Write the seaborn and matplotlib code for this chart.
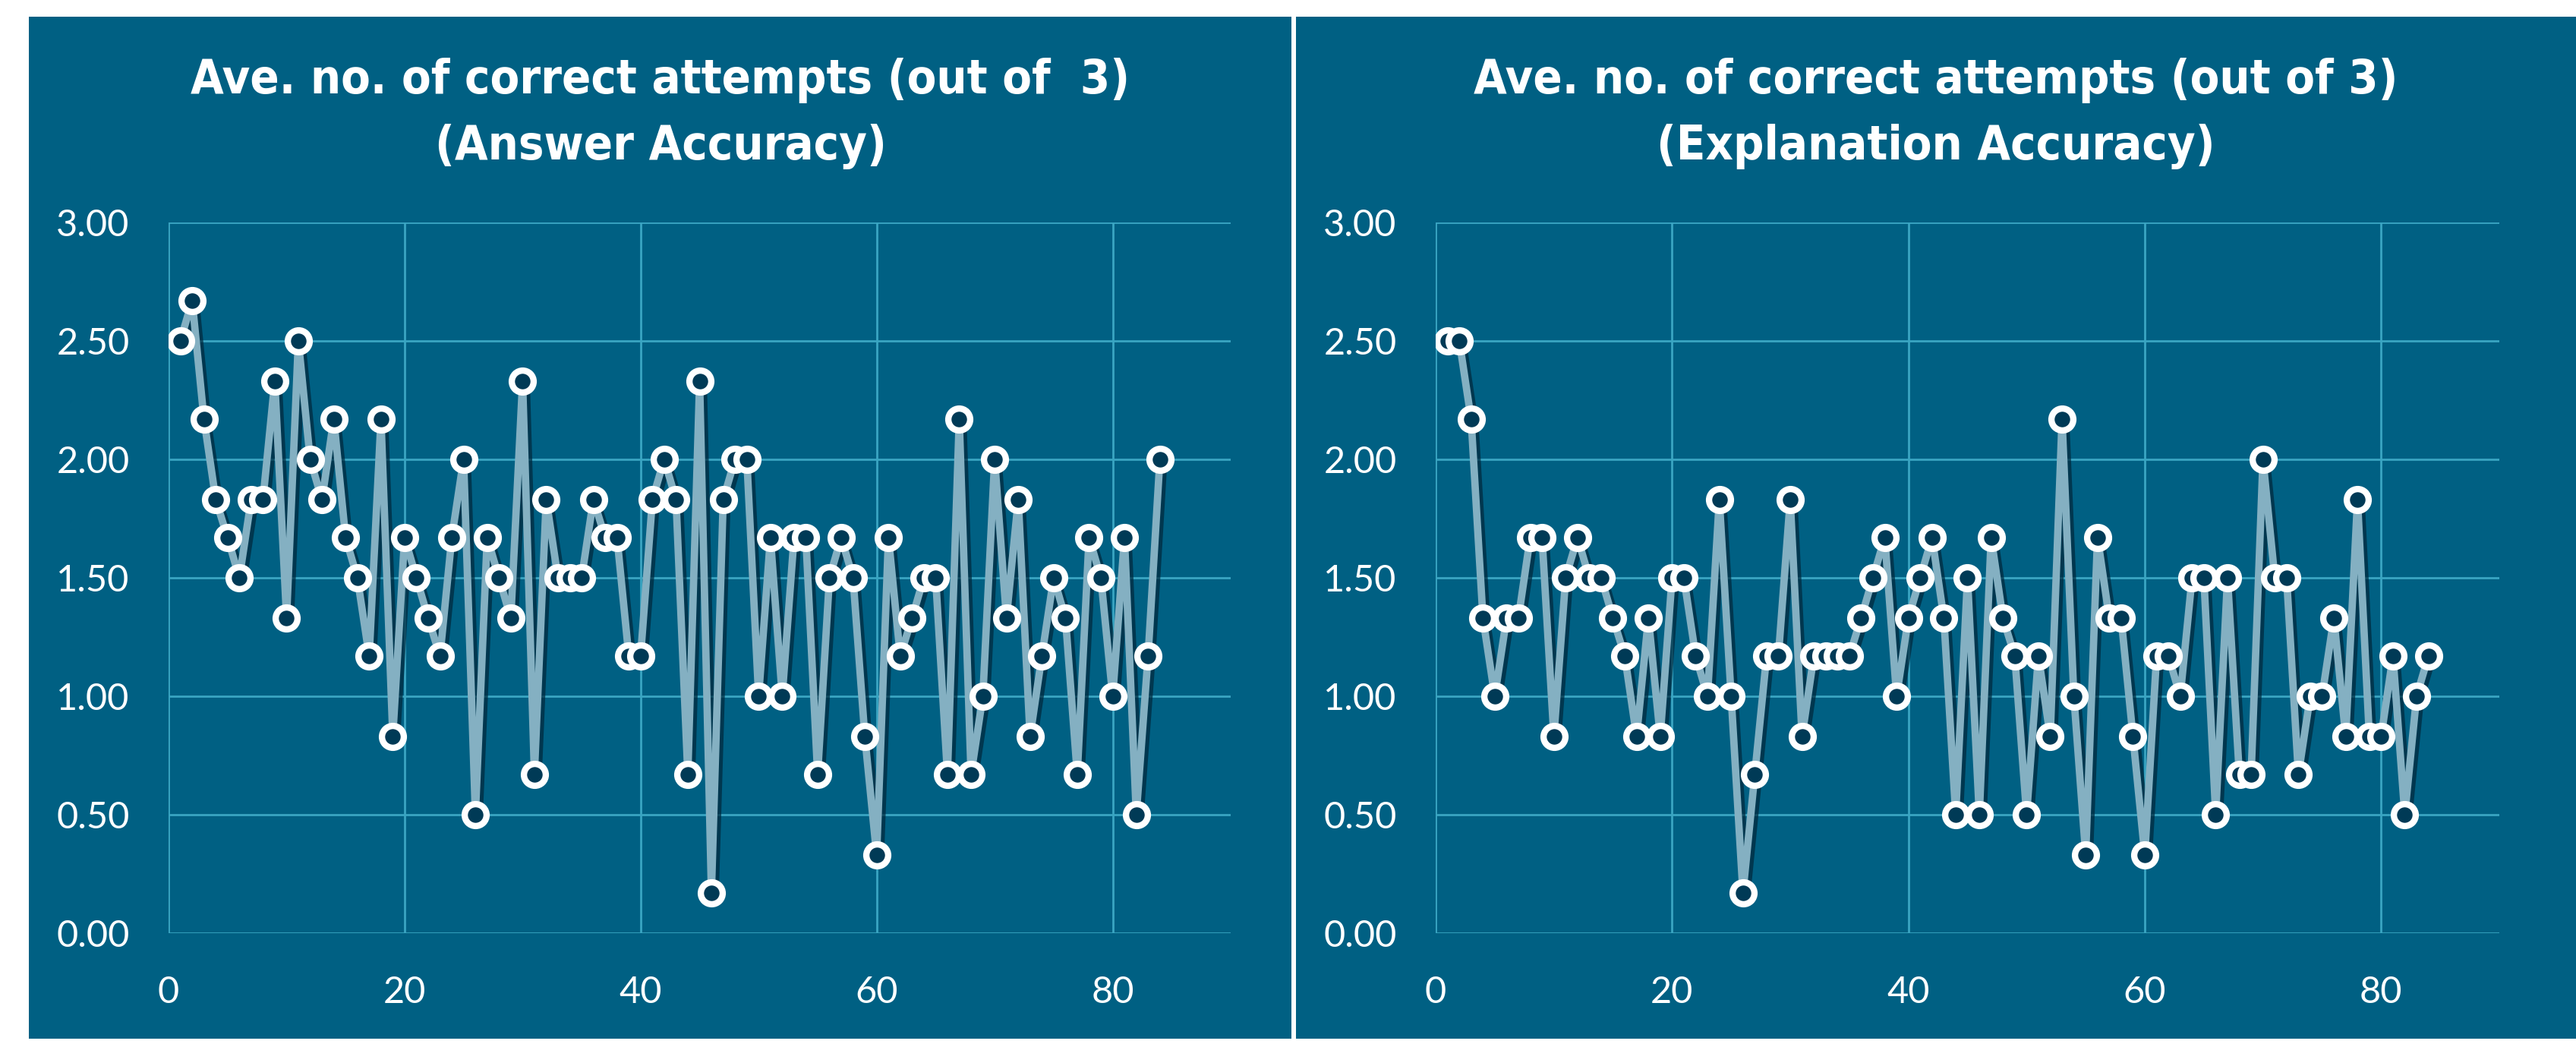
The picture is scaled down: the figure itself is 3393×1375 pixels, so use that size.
import os
import matplotlib
matplotlib.use("Agg")
import matplotlib.pyplot as plt
import matplotlib.patheffects as pe
from matplotlib import font_manager as fm
from matplotlib.patches import Rectangle
import pandas as pd
import seaborn as sns

# data (average correct attempts out of 3, per item)
items = list(range(1, 85))
answer_acc = [
    2.50, 2.67, 2.17, 1.83, 1.67, 1.50, 1.83, 1.83, 2.33, 1.33,
    2.50, 2.00, 1.83, 2.17, 1.67, 1.50, 1.17, 2.17, 0.83, 1.67,
    1.50, 1.33, 1.17, 1.67, 2.00, 0.50, 1.67, 1.50, 1.33, 2.33,
    0.67, 1.83, 1.50, 1.50, 1.50, 1.83, 1.67, 1.67, 1.17, 1.17,
    1.83, 2.00, 1.83, 0.67, 2.33, 0.17, 1.83, 2.00, 2.00, 1.00,
    1.67, 1.00, 1.67, 1.67, 0.67, 1.50, 1.67, 1.50, 0.83, 0.33,
    1.67, 1.17, 1.33, 1.50, 1.50, 0.67, 2.17, 0.67, 1.00, 2.00,
    1.33, 1.83, 0.83, 1.17, 1.50, 1.33, 0.67, 1.67, 1.50, 1.00,
    1.67, 0.50, 1.17, 2.00,
]
explanation_acc = [
    2.50, 2.50, 2.17, 1.33, 1.00, 1.33, 1.33, 1.67, 1.67, 0.83,
    1.50, 1.67, 1.50, 1.50, 1.33, 1.17, 0.83, 1.33, 0.83, 1.50,
    1.50, 1.17, 1.00, 1.83, 1.00, 0.17, 0.67, 1.17, 1.17, 1.83,
    0.83, 1.17, 1.17, 1.17, 1.17, 1.33, 1.50, 1.67, 1.00, 1.33,
    1.50, 1.67, 1.33, 0.50, 1.50, 0.50, 1.67, 1.33, 1.17, 0.50,
    1.17, 0.83, 2.17, 1.00, 0.33, 1.67, 1.33, 1.33, 0.83, 0.33,
    1.17, 1.17, 1.00, 1.50, 1.50, 0.50, 1.50, 0.67, 0.67, 2.00,
    1.50, 1.50, 0.67, 1.00, 1.00, 1.33, 0.83, 1.83, 0.83, 0.83,
    1.17, 0.50, 1.00, 1.17,
]
title_top = ["Ave. no. of correct attempts (out of  3)",
             "Ave. no. of correct attempts (out of 3)"]
title_sub = ["(Answer Accuracy)", "(Explanation Accuracy)"]
x_ticks = [0, 20, 40, 60, 80]
y_ticks = [0.0, 0.5, 1.0, 1.5, 2.0, 2.5, 3.0]

df = pd.DataFrame({"item": items, "answer": answer_acc,
                   "explanation": explanation_acc})

BG = "#006083"
GRID = "#3aa5c2"
LINE = "#84b0c2"
DOT = "#003a56"

sns.set_theme(style="dark", rc={"axes.facecolor": "none",
                                "figure.facecolor": "white",
                                "grid.color": GRID})
plt.rcParams["font.family"] = ["Lato", "DejaVu Sans"]


def title_font(size):
    wanted = ["liberationsansnarrow-bold.ttf", "notosans-condensedbold.ttf",
              "dejavusanscondensed-bold.ttf", "opensans-condensedbold.ttf"]
    files = {os.path.basename(f.fname).lower(): f.fname
             for f in fm.fontManager.ttflist}
    for w in wanted:
        if w in files:
            return fm.FontProperties(fname=files[w], size=size)
    for name, path in files.items():
        if (("narrow" in name or "condensed" in name) and "bold" in name
                and not any(k in name for k in
                            ("italic", "mono", "serif", "semi", "extra"))):
            return fm.FontProperties(fname=path, size=size)
    return fm.FontProperties(family="DejaVu Sans", weight="bold", size=size)


W, H = 3393, 1375
fig = plt.figure(figsize=(W / 100, H / 100), dpi=100)

# the two dark panels behind the axes
for x0, x1 in [(38, 1701), (1707, 3393)]:
    fig.patches.append(Rectangle((x0 / W, 1 - 1368 / H), (x1 - x0) / W,
                                 (1368 - 22) / H, transform=fig.transFigure,
                                 facecolor=BG, edgecolor="none", zorder=-5))

ax_left = fig.add_axes([222 / W, 1 - 1229 / H, 1399 / W, 936 / H])
ax_right = fig.add_axes([1891 / W, 1 - 1229 / H, 1401 / W, 936 / H])

shadow = [pe.SimpleLineShadow(offset=(3.5, -3), shadow_color="#00263a",
                              alpha=0.7), pe.Normal()]

for ax, col in [(ax_left, "answer"), (ax_right, "explanation")]:
    sns.lineplot(data=df, x="item", y=col, ax=ax, color=LINE, lw=7,
                 zorder=3, path_effects=shadow)
    sns.scatterplot(data=df, x="item", y=col, ax=ax, s=430, color=DOT,
                    edgecolor="white", linewidth=6, zorder=4)
    ax.set_xlim(0, 90)
    ax.set_ylim(0, 3)
    ax.set_xticks(x_ticks)
    ax.set_yticks(y_ticks)
    ax.set_yticklabels([f"{v:.2f}" for v in y_ticks])
    ax.grid(True, color=GRID, lw=2)
    ax.set_axisbelow(True)
    for s in ax.spines.values():
        s.set_visible(False)
    ax.tick_params(axis="both", length=0, labelsize=35, labelcolor="white")
    ax.tick_params(axis="y", pad=37)
    ax.tick_params(axis="x", pad=40)
    for lab in ax.get_xticklabels() + ax.get_yticklabels():
        lab.set_fontweight("normal")
        lab.set_color("white")
    ax.set_xlabel("")
    ax.set_ylabel("")

# titles, sized to span about the same width as in the reference
texts = []
for cx, top, sub in zip([870 / W, 2550 / W], title_top, title_sub):
    t1 = fig.text(cx, 1 - 123 / H, top, ha="center", va="baseline",
                  color="white", fontproperties=title_font(44))
    t2 = fig.text(cx, 1 - 210 / H, sub, ha="center", va="baseline",
                  color="white", fontproperties=title_font(44))
    texts += [t1, t2]

fig.canvas.draw()
r = fig.canvas.get_renderer()
width = texts[0].get_window_extent(r).width
size = min(46, 44 * 1240 / width)
for t in texts:
    t.set_fontsize(size)

fig.savefig("out.png", dpi=100, facecolor="white")
